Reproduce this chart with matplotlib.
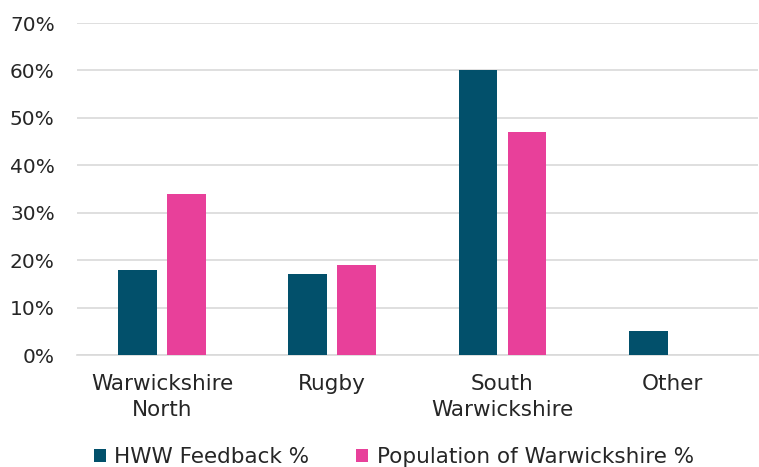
import numpy as np
import matplotlib.pyplot as plt
from matplotlib.ticker import PercentFormatter

# Data
categories = ['Warwickshire\nNorth', 'Rugby', 'South\nWarwickshire', 'Other']
hww_feedback = [18, 17, 60, 5]
population = [34, 19, 47, 0]

teal = '#02506B'
pink = '#E8409A'

plt.rcParams['font.family'] = ['DejaVu Sans']

fig = plt.figure(figsize=(7.59, 4.67), dpi=100)
ax = fig.add_axes([0.1014, 0.2398, 0.897, 0.7109])

x = np.arange(len(categories))
w = 0.228
ax.bar(x - 0.144, hww_feedback, w, color=teal, label='HWW Feedback %', zorder=3)
ax.bar(x + 0.144, population, w, color=pink, label='Population of Warwickshire %', zorder=3)

ax.set_xlim(-0.5, len(categories) - 0.5)
ax.set_ylim(0, 70)
ax.set_yticks(np.arange(0, 71, 10))
ax.yaxis.set_major_formatter(PercentFormatter(decimals=0))
ax.set_xticks(x)
ax.set_xticklabels(categories, linespacing=1.35)

ax.grid(axis='y', color='#D9D9D9', linewidth=1.2, zorder=0)
for s in ['top', 'right', 'left']:
    ax.spines[s].set_visible(False)
ax.spines['bottom'].set_color('#D9D9D9')
ax.spines['bottom'].set_linewidth(1.2)
ax.tick_params(axis='both', length=0, colors='#262626')
ax.tick_params(axis='y', pad=16, labelsize=14.5)
ax.tick_params(axis='x', pad=14, labelsize=15.5)

ax.legend(loc='lower left', bbox_to_anchor=(-0.004, -0.395), ncol=2, frameon=False,
          fontsize=15.5, handlelength=0.56, handleheight=0.56, handletextpad=0.38,
          columnspacing=2.2, labelcolor='#262626')

fig.savefig('out.png', dpi=100)
